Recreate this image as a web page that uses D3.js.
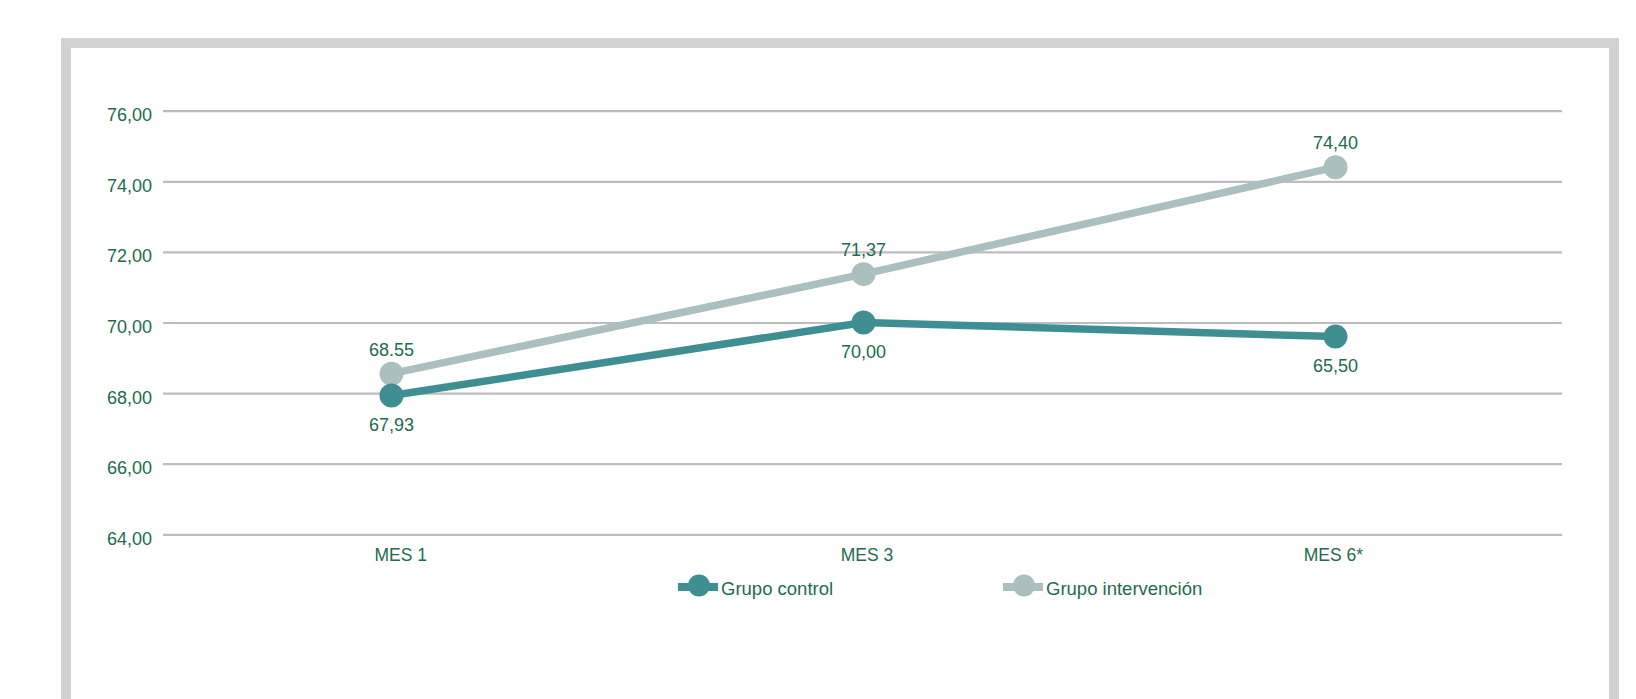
<!DOCTYPE html>
<html>
<head>
<meta charset="utf-8">
<script src="https://cdn.jsdelivr.net/npm/d3@7"></script>
<style>
  html, body { margin: 0; padding: 0; background: #fff; }
  svg { display: block; }
  text { font-family: "Liberation Sans", Arial, Helvetica, sans-serif; }
</style>
</head>
<body>
<svg id="chart" width="1636" height="699"></svg>
<script>
// ---- Data ----
const categories = ["MES 1", "MES 3", "MES 6*"];
const seriesNames = ["Grupo control", "Grupo intervención"];
const controlValues = [67.93, 70.00, 69.60];
const interventionValues = [68.55, 71.37, 74.40];
const controlLabels = ["67,93", "70,00", "65,50"];
const interventionLabels = ["68.55", "71,37", "74,40"];
const yTicks = [64, 66, 68, 70, 72, 74, 76];
const yTickLabels = ["64,00", "66,00", "68,00", "70,00", "72,00", "74,00", "76,00"];

// ---- Styles ----
const textColor = "#226b4f";
const gridColor = "#bdbdc1";
const frameColor = "#d1d2d4";
const colors = ["#3f8f92", "#abbfbe"];

const svg = d3.select("#chart");

// Frame
svg.append("rect")
  .attr("x", 66).attr("y", 43)
  .attr("width", 1548).attr("height", 720)
  .attr("fill", "#fff")
  .attr("stroke", frameColor)
  .attr("stroke-width", 10);

const plot = { left: 163, right: 1562, top: 110.7, bottom: 534.3 };

const x = d3.scalePoint().domain(categories)
  .range([391.5, 1335.5]).padding(0);
const xLab = d3.scalePoint().domain(categories)
  .range([plot.left, plot.right]).padding(0.5);
const y = d3.scaleLinear().domain([64, 76])
  .range([plot.bottom, plot.top]);

// Grid + y labels
const yAxis = d3.axisLeft(y)
  .tickValues(yTicks)
  .tickSize(-(plot.right - plot.left))
  .tickFormat((d, i) => yTickLabels[i]);

const gy = svg.append("g")
  .attr("transform", `translate(${plot.left},0)`)
  .call(yAxis);
gy.select(".domain").remove();
gy.selectAll(".tick line")
  .attr("stroke", gridColor).attr("stroke-width", 2.2);
gy.selectAll(".tick text")
  .attr("x", -11).attr("dy", "0.55em")
  .attr("fill", textColor)
  .attr("font-size", 18)
  .attr("font-family", '"Liberation Sans", Arial, sans-serif');

// x axis labels
const xAxis = d3.axisBottom(xLab).tickSize(0);
const gx = svg.append("g")
  .attr("transform", `translate(4,${plot.bottom})`)
  .call(xAxis);
gx.select(".domain").remove();
gx.selectAll(".tick text")
  .attr("y", 27).attr("dy", 0)
  .attr("fill", textColor)
  .attr("font-size", 17.5)
  .attr("font-family", '"Liberation Sans", Arial, sans-serif');

// Lines
const series = [
  { name: seriesNames[0], values: controlValues, labels: controlLabels, color: colors[0], below: true },
  { name: seriesNames[1], values: interventionValues, labels: interventionLabels, color: colors[1], below: false }
];

const line = d3.line()
  .x((d, i) => x(categories[i]))
  .y(d => y(d));

const order = [series[1], series[0]];
order.forEach(s => {
  svg.append("path")
    .datum(s.values)
    .attr("d", line)
    .attr("fill", "none")
    .attr("stroke", s.color)
    .attr("stroke-width", 7.5);
});
order.forEach(s => {
  svg.append("g").selectAll("circle")
    .data(s.values)
    .join("circle")
    .attr("cx", (d, i) => x(categories[i]))
    .attr("cy", d => y(d))
    .attr("r", 12)
    .attr("fill", s.color);
});
series.forEach(s => {
  svg.append("g").selectAll("text")
    .data(s.values)
    .join("text")
    .attr("x", (d, i) => x(categories[i]))
    .attr("y", d => y(d) + (s.below ? 35 : -18))
    .attr("text-anchor", "middle")
    .attr("fill", textColor)
    .attr("font-size", 18)
    .text((d, i) => s.labels[i]);
});

// Legend
const legendX = [678, 1003];
const legendY = 587;
series.forEach((s, i) => {
  const g = svg.append("g").attr("transform", `translate(${legendX[i]},${legendY})`);
  g.append("line")
    .attr("x1", 0).attr("x2", 40).attr("y1", 0).attr("y2", 0)
    .attr("stroke", s.color).attr("stroke-width", 8);
  g.append("circle")
    .attr("cx", 21).attr("cy", -1.5).attr("r", 11)
    .attr("fill", s.color);
  g.append("text")
    .attr("x", 43).attr("y", 8)
    .attr("fill", textColor)
    .attr("font-size", 18.5)
    .text(s.name);
});
</script>
</body>
</html>
